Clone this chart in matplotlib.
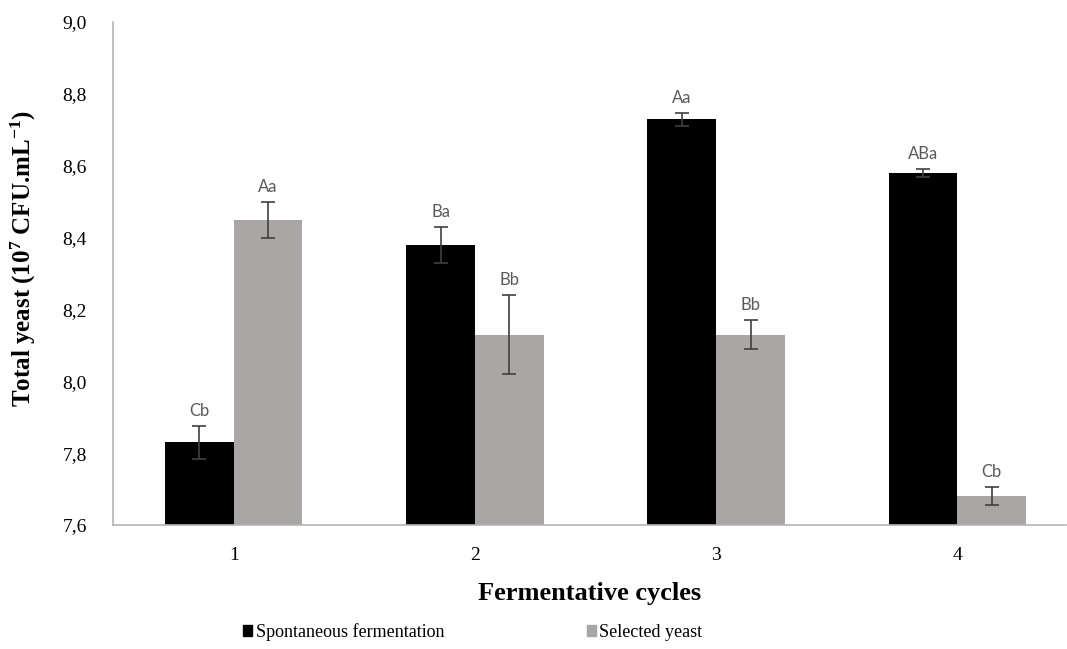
import numpy as np
import matplotlib
matplotlib.use("Agg")
import matplotlib.pyplot as plt
from matplotlib.patches import Patch

plt.rcParams["font.family"] = "Liberation Serif"
plt.rcParams["mathtext.fontset"] = "custom"
plt.rcParams["mathtext.rm"] = "Liberation Serif:bold"
plt.rcParams["mathtext.bf"] = "Liberation Serif:bold"
plt.rcParams["mathtext.default"] = "bf"

cycles = ["1", "2", "3", "4"]
spont = [7.83, 8.38, 8.73, 8.58]
spont_err = [0.045, 0.05, 0.018, 0.01]
spont_lbl = ["Cb", "Ba", "Aa", "ABa"]
selected = [8.45, 8.13, 8.13, 7.68]
selected_err = [0.05, 0.11, 0.04, 0.025]
selected_lbl = ["Aa", "Bb", "Bb", "Cb"]
yticks = [7.6, 7.8, 8.0, 8.2, 8.4, 8.6, 8.8, 9.0]

BLACK, GREY = "#000000", "#aaa6a5"
x = np.arange(len(cycles))
w = 0.285

fig = plt.figure(figsize=(10.67, 6.49), dpi=100)
ax = fig.add_axes([0.106, 0.191, 0.893, 0.775])

ekw = dict(ecolor="#404040", elinewidth=1.2, capsize=5, capthick=1.2)
ax.bar(x - w / 2, spont, w, color=BLACK, yerr=spont_err, error_kw=ekw, zorder=2)
ax.bar(x + w / 2, selected, w, color=GREY, yerr=selected_err, error_kw=ekw, zorder=2)

# significance letters above each error bar
for xs, vals, errs, lbls in [(x - w / 2, spont, spont_err, spont_lbl),
                             (x + w / 2, selected, selected_err, selected_lbl)]:
    for xi, v, e, t in zip(xs, vals, errs, lbls):
        ax.annotate(t, (xi, v + e), xytext=(0, 5), textcoords="offset points",
                    ha="center", va="bottom", fontsize=12, color="#595959",
                    family="Lato")

ax.set_ylim(7.6, 9.0)
ax.set_xlim(-0.5, 3.45)
ax.set_yticks(yticks)
ax.set_yticklabels([f"{t:.1f}".replace(".", ",") for t in yticks], fontsize=14)
ax.set_xticks(x)
ax.set_xticklabels(cycles, fontsize=14)
ax.tick_params(axis="y", length=0, pad=19)
ax.tick_params(axis="x", length=0, pad=16)
for s in ["top", "right"]:
    ax.spines[s].set_visible(False)
for s in ["left", "bottom"]:
    ax.spines[s].set_color("#b5b5b5")
    ax.spines[s].set_linewidth(1.2)

ax.set_ylabel("Total yeast (10$^{7}$ CFU.mL$^{-1}$)", fontsize=18,
              fontweight="bold")
ax.yaxis.set_label_coords(-0.079, 0.53)
ax.set_xlabel("Fermentative cycles", fontsize=19, fontweight="bold", labelpad=13)

handles = [Patch(color=BLACK), Patch(color=GREY)]
fig.legend(handles, ["Spontaneous fermentation", "Selected yeast"], loc="center",
           bbox_to_anchor=(0.443, 1 - 632 / 649), ncol=2, frameon=False,
           fontsize=13, handlelength=0.5, handleheight=0.5, handletextpad=0.2,
           columnspacing=7.9)

fig.savefig("out.png", dpi=100)
